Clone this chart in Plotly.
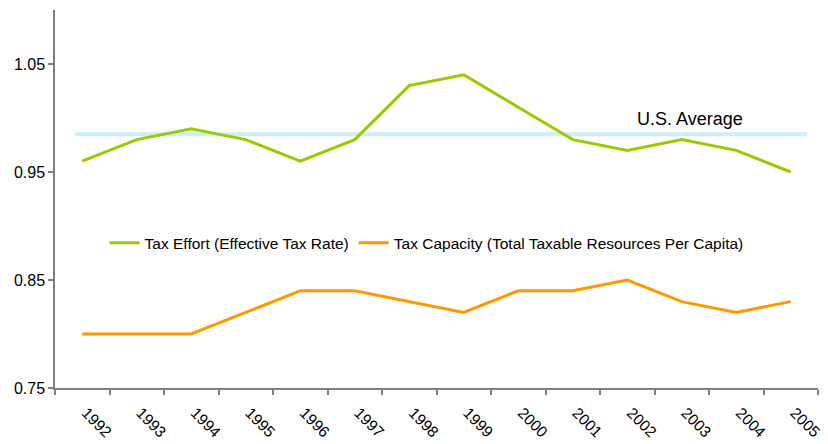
import plotly.graph_objects as go

# values
years = ['1992', '1993', '1994', '1995', '1996', '1997', '1998',
         '1999', '2000', '2001', '2002', '2003', '2004', '2005']
tax_effort = [0.96, 0.98, 0.99, 0.98, 0.96, 0.98, 1.03,
              1.04, 1.01, 0.98, 0.97, 0.98, 0.97, 0.95]
tax_capacity = [0.80, 0.80, 0.80, 0.82, 0.84, 0.84, 0.83,
                0.82, 0.84, 0.84, 0.85, 0.83, 0.82, 0.83]
us_average = 0.985
y_ticks = [0.75, 0.85, 0.95, 1.05]

font_fam = 'Arial, Liberation Sans, sans-serif'

fig = go.Figure()

# U.S. average reference line
fig.add_shape(type='line', xref='x', yref='y',
              x0=-0.13, x1=13.3, y0=us_average, y1=us_average,
              line=dict(color='#cceeff', width=4), layer='below')

fig.add_trace(go.Scatter(x=years, y=tax_effort, mode='lines',
                         name='Tax Effort (Effective Tax Rate)',
                         line=dict(color='#99cc00', width=3)))
fig.add_trace(go.Scatter(x=years, y=tax_capacity, mode='lines',
                         name='Tax Capacity (Total Taxable Resources Per Capita)',
                         line=dict(color='#ff9900', width=3)))

fig.add_annotation(x=11.15, y=us_average, xref='x', yref='y',
                   text='U.S. Average', showarrow=False,
                   yanchor='bottom', yshift=3,
                   font=dict(size=18, color='#000000', family=font_fam))

# page body has an 8px margin, so margins are offset to land the plot area where the reference has it
fig.update_layout(
    width=828, height=444,
    margin=dict(l=47, r=18, t=2, b=64),
    paper_bgcolor='white', plot_bgcolor='white',
    font=dict(family=font_fam, color='#000000', size=16),
    showlegend=True,
    legend=dict(orientation='h', x=0.065, y=0.383, xanchor='left', yanchor='middle',
                bgcolor='rgba(0,0,0,0)', font=dict(size=15.5),
                itemwidth=30),
)

fig.update_xaxes(type='category', range=[-0.5, 13.5], automargin=False,
                 showline=True, linecolor='#808080', linewidth=1.5,
                 ticks='outside', tickson='boundaries', ticklen=5,
                 tickcolor='#808080', tickwidth=1.5,
                 tickangle=45, showgrid=False, zeroline=False,
                 ticklabelstandoff=8, ticklabelshift=4,
                 tickfont=dict(size=15.5))
fig.update_yaxes(range=[0.75, 1.10], tickvals=y_ticks, automargin=False,
                 ticktext=['0.75', '0.85', '0.95', '1.05'],
                 showline=True, linecolor='#808080', linewidth=1.5,
                 ticks='outside', ticklen=5, tickcolor='#808080', tickwidth=1.5,
                 showgrid=False, zeroline=False, tickfont=dict(size=16))

fig.write_html('out.html')
